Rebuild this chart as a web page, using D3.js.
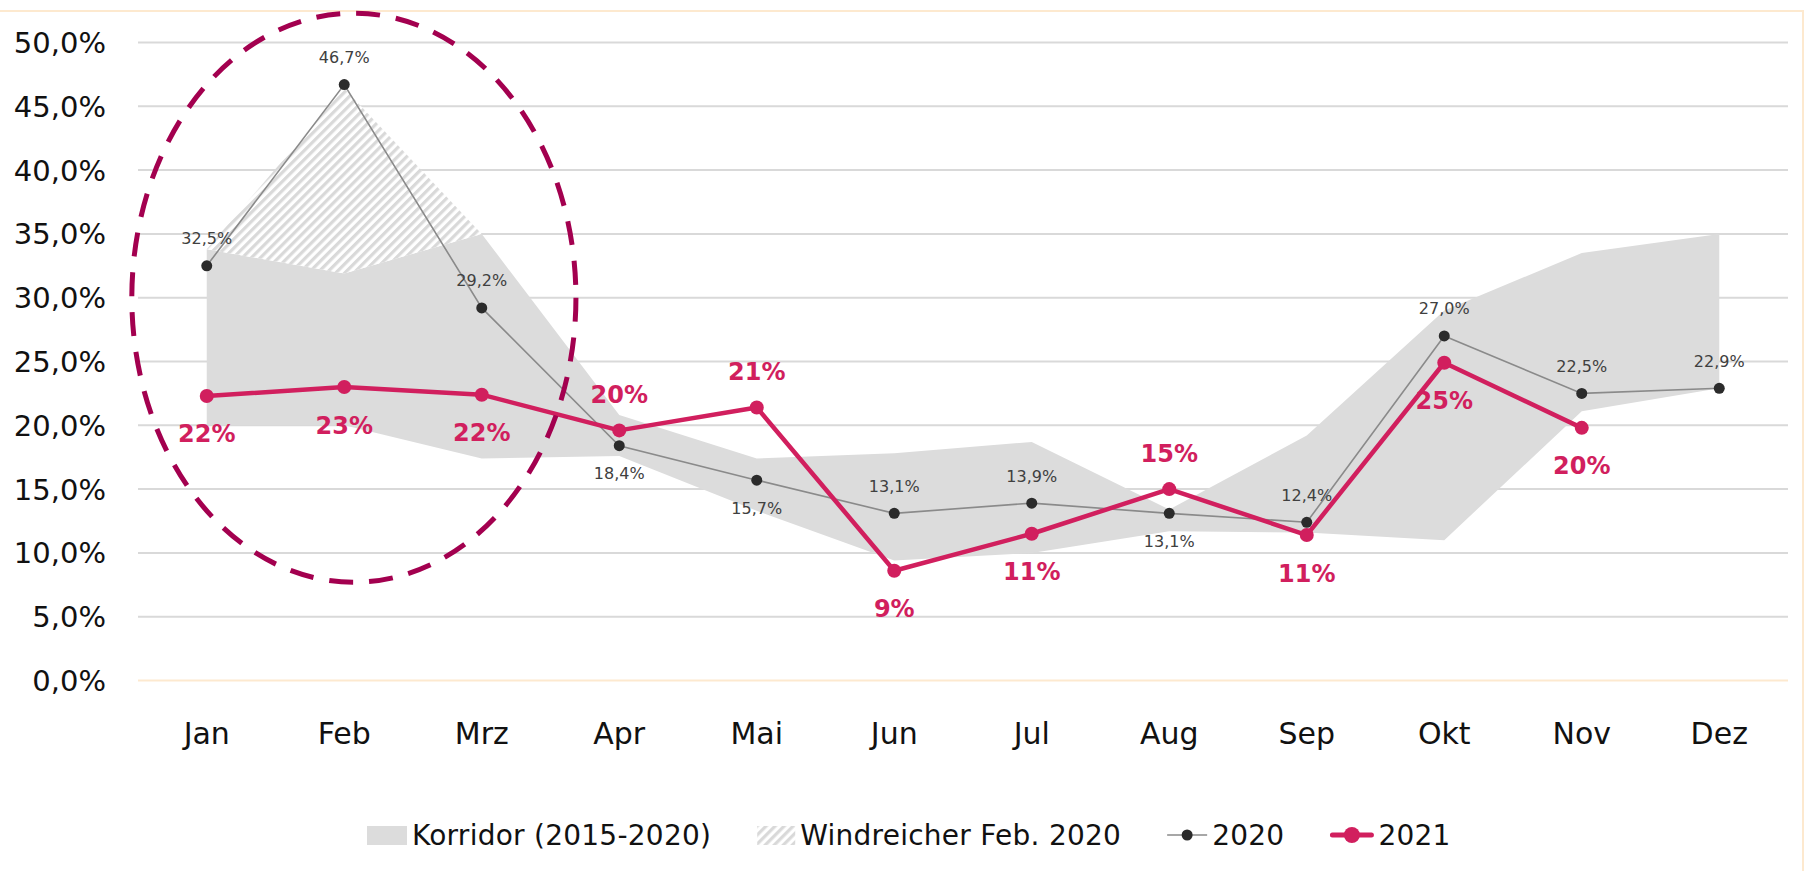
<!DOCTYPE html>
<html>
<head>
<meta charset="utf-8">
<script src="https://cdn.jsdelivr.net/npm/d3@7"></script>
<style>
  html, body { margin: 0; padding: 0; background: #fff; }
  svg { display: block; font-family: "DejaVu Sans", sans-serif; }
</style>
</head>
<body>
<svg id="chart" width="1812" height="871"></svg>
<script>
// months on the x axis
const months = ["Jan", "Feb", "Mrz", "Apr", "Mai", "Jun", "Jul", "Aug", "Sep", "Okt", "Nov", "Dez"]

// corridor 2015-2020 (min / max), in percent
const corridorLow  = [20.0, 20.0, 17.4, 17.6, 13.3, 9.4, 10.0, 11.7, 11.6, 11.0, 21.1, 22.9]
const corridorHigh = [33.8, 31.9, 35.0, 20.8, 17.4, 17.8, 18.7, 13.4, 19.2, 29.0, 33.5, 35.0]

// windy february 2020 lifts the top of the corridor
const windMonths = ["Jan", "Feb", "Mrz"]
const windHigh = [33.8, 46.4, 35.0]

// 2020 and 2021 series
const values2020 = [32.5, 46.7, 29.2, 18.4, 15.7, 13.1, 13.9, 13.1, 12.4, 27.0, 22.5, 22.9]
const values2021 = [22.3, 23.0, 22.4, 19.6, 21.4, 8.6, 11.5, 15.0, 11.4, 24.9, 19.8]
const labels2021 = ["22%", "23%", "22%", "20%", "21%", "9%", "11%", "15%", "11%", "25%", "20%"]
const side2020 = ["up", "up", "up", "down", "down", "up", "up", "down", "up", "up", "up", "up"]
const side2021 = ["down", "down", "down", "up", "up", "down", "down", "up", "down", "down", "down"]

const yTicks = [0, 5, 10, 15, 20, 25, 30, 35, 40, 45, 50]

const legendItems = ["Korridor (2015-2020)", "Windreicher Feb. 2020", "2020", "2021"]

const pink = "#d11f5e"
const grey = "#dcdcdc"

const svg = d3.select("#chart")

const x = d3.scaleBand().domain(months).range([138, 1788]).padding(0)
const cx = m => x(m) + x.bandwidth() / 2
const y = d3.scaleLinear().domain([0, 50]).range([680.5, 42.5])

const fmt = v => d3.format(".1f")(v).replace(".", ",") + "%"

// hatch pattern
const defs = svg.append("defs")
defs.append("pattern")
    .attr("id", "hatch")
    .attr("patternUnits", "userSpaceOnUse")
    .attr("width", 6.4)
    .attr("height", 6.4)
    .attr("patternTransform", "rotate(45)")
    .call(p => p.append("rect").attr("width", 6.4).attr("height", 6.4).attr("fill", "#fff"))
    .append("line")
    .attr("x1", 1.6).attr("x2", 1.6)
    .attr("y1", 0).attr("y2", 6.4)
    .attr("stroke", "#d9d9d9")
    .attr("stroke-width", 3.2)

// outer frame
svg.append("rect")
    .attr("x", -2).attr("y", 11)
    .attr("width", 1805).attr("height", 880)
    .attr("fill", "none")
    .attr("stroke", "#fde9cf")
    .attr("stroke-width", 2)

// grid
svg.append("g")
    .selectAll("line")
    .data(yTicks)
    .join("line")
    .attr("x1", 138).attr("x2", 1788)
    .attr("y1", d => y(d)).attr("y2", d => y(d))
    .attr("stroke", d => d === 0 ? "#fde9cf" : "#d9d9d9")
    .attr("stroke-width", 2)

// y axis labels
svg.append("g")
    .selectAll("text")
    .data(yTicks)
    .join("text")
    .attr("x", 106)
    .attr("y", d => y(d))
    .attr("dy", "0.36em")
    .attr("text-anchor", "end")
    .attr("font-size", 29)
    .attr("fill", "#111")
    .text(d => d3.format(".1f")(d).replace(".", ",") + "%")

// x axis labels
svg.append("g")
    .selectAll("text")
    .data(months)
    .join("text")
    .attr("x", d => cx(d))
    .attr("y", 744)
    .attr("text-anchor", "middle")
    .attr("font-size", 30)
    .attr("fill", "#111")
    .text(d => d)

// corridor
const corridor = months.map((m, i) => ({ m, lo: corridorLow[i], hi: corridorHigh[i] }))
svg.append("path")
    .datum(corridor)
    .attr("fill", grey)
    .attr("d", d3.area().x(d => cx(d.m)).y0(d => y(d.lo)).y1(d => y(d.hi)))

// windy feb hatch
const wind = windMonths.map((m, i) => ({ m, lo: corridorHigh[months.indexOf(m)], hi: windHigh[i] }))
svg.append("path")
    .datum(wind)
    .attr("fill", "url(#hatch)")
    .attr("d", d3.area().x(d => cx(d.m)).y0(d => y(d.lo)).y1(d => y(d.hi)))

// 2020
const s2020 = months.map((m, i) => ({ m, v: values2020[i], side: side2020[i] }))
svg.append("path")
    .datum(s2020)
    .attr("fill", "none")
    .attr("stroke", "#8a8a8a")
    .attr("stroke-width", 1.6)
    .attr("d", d3.line().x(d => cx(d.m)).y(d => y(d.v)))
svg.append("g")
    .selectAll("circle")
    .data(s2020)
    .join("circle")
    .attr("cx", d => cx(d.m))
    .attr("cy", d => y(d.v))
    .attr("r", 5.5)
    .attr("fill", "#2b2b2b")

// 2021
const s2021 = values2021.map((v, i) => ({ m: months[i], v, label: labels2021[i], side: side2021[i] }))
svg.append("path")
    .datum(s2021)
    .attr("fill", "none")
    .attr("stroke", pink)
    .attr("stroke-width", 4.5)
    .attr("stroke-linejoin", "round")
    .attr("d", d3.line().x(d => cx(d.m)).y(d => y(d.v)))
svg.append("g")
    .selectAll("circle")
    .data(s2021)
    .join("circle")
    .attr("cx", d => cx(d.m))
    .attr("cy", d => y(d.v))
    .attr("r", 7)
    .attr("fill", pink)

// labels 2020
svg.append("g")
    .selectAll("text")
    .data(s2020)
    .join("text")
    .attr("x", d => cx(d.m))
    .attr("y", d => y(d.v) + (d.side === "up" ? -21.5 : 33.5))
    .attr("text-anchor", "middle")
    .attr("font-size", 16)
    .attr("fill", "#404040")
    .text(d => fmt(d.v))

// labels 2021
svg.append("g")
    .selectAll("text")
    .data(s2021)
    .join("text")
    .attr("x", d => cx(d.m))
    .attr("y", d => y(d.v) + (d.side === "up" ? -27 : 46.5))
    .attr("text-anchor", "middle")
    .attr("font-size", 24)
    .attr("font-weight", "bold")
    .attr("fill", pink)
    .text(d => d.label)

// dashed ellipse around jan-mrz
const step = x.step()
svg.append("ellipse")
    .attr("cx", cx("Feb") + 0.07 * step)
    .attr("cy", y(30))
    .attr("rx", 1.615 * step)
    .attr("ry", y(0) - y(22.3))
    .attr("fill", "none")
    .attr("stroke", "#a3004f")
    .attr("stroke-width", 5)
    .attr("stroke-dasharray", "24 16")

// legend
const legend = svg.append("g").attr("transform", "translate(367,0)")
const swatchW = [40, 38, 40, 43]
let lx = 0
const ly = 845
legendItems.forEach((name, i) => {
    const g = legend.append("g").attr("transform", `translate(${lx},0)`)
    const w = swatchW[i]
    if (i === 0) {
        g.append("rect").attr("x", 0).attr("y", ly - 19).attr("width", w).attr("height", 19).attr("fill", grey)
    } else if (i === 1) {
        g.append("rect").attr("x", 0).attr("y", ly - 19).attr("width", w).attr("height", 19).attr("fill", "url(#hatch)")
    } else if (i === 2) {
        g.append("line").attr("x1", 0).attr("x2", w).attr("y1", ly - 10).attr("y2", ly - 10)
            .attr("stroke", "#8a8a8a").attr("stroke-width", 1.6)
        g.append("circle").attr("cx", w / 2).attr("cy", ly - 10).attr("r", 5.5).attr("fill", "#2b2b2b")
    } else {
        g.append("line").attr("x1", 2).attr("x2", w - 2).attr("y1", ly - 10).attr("y2", ly - 10)
            .attr("stroke", pink).attr("stroke-width", 5).attr("stroke-linecap", "round")
        g.append("circle").attr("cx", w / 2).attr("cy", ly - 10).attr("r", 8).attr("fill", pink)
    }
    const t = g.append("text")
        .attr("x", w + 5)
        .attr("y", ly)
        .attr("font-size", 28)
        .attr("letter-spacing", 0.25)
        .attr("fill", "#111")
        .text(name)
    lx += w + 5 + t.node().getComputedTextLength() + 46
})
</script>
</body>
</html>
